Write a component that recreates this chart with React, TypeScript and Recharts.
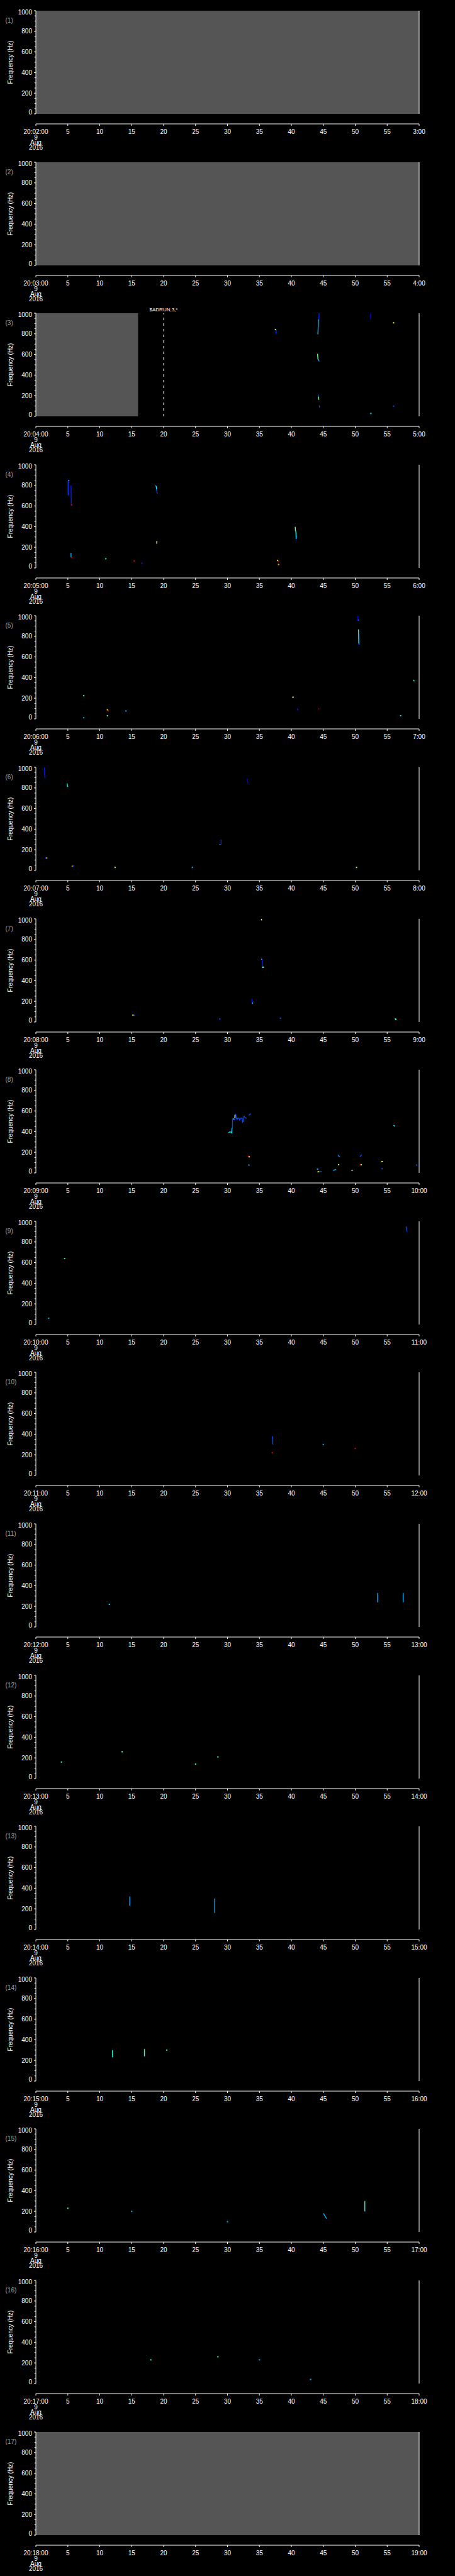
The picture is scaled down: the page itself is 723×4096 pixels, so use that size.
import { ComposedChart, Line, Scatter, XAxis, YAxis, ReferenceArea, ReferenceLine } from "recharts";

type Pt = [number, number];
type Trace = { lvl: number; pts: Pt[] };
type Dot = [number, number, number]; // seconds, Hz, intensity level (0..1)

// axis ticks
const FREQ_TICKS = [0, 50, 100, 150, 200, 250, 300, 350, 400, 450, 500, 550, 600, 650, 700, 750, 800, 850, 900, 950, 1000];
const TIME_TICKS = [0, 5, 10, 15, 20, 25, 30, 35, 40, 45, 50, 55, 60];
const startLabels = ["20:02:00", "20:03:00", "20:04:00", "20:05:00", "20:06:00", "20:07:00", "20:08:00", "20:09:00", "20:10:00", "20:11:00", "20:12:00", "20:13:00", "20:14:00", "20:15:00", "20:16:00", "20:17:00", "20:18:00"];
const endLabels = ["3:00", "4:00", "5:00", "6:00", "7:00", "8:00", "9:00", "10:00", "11:00", "12:00", "13:00", "14:00", "15:00", "16:00", "17:00", "18:00", "19:00"];

// no-data (grey) spans, seconds
const greyP1: Pt[] = [[0, 60]];
const greyP2: Pt[] = [[0, 60]];
const greyP3: Pt[] = [[0, 16]];
const greyP17: Pt[] = [[0, 60]];

const p3Lines: Trace[] = [
  { lvl: 0.2, pts: [[37.6, 842], [37.6, 800]] },
  { lvl: 0.15, pts: [[44.35, 1000], [44.3, 940]] },
  { lvl: 0.3, pts: [[44.25, 940], [44.15, 795]] },
  { lvl: 0.48, pts: [[44.1, 606], [44.15, 560], [44.25, 540]] },
  { lvl: 0.2, pts: [[44.2, 212], [44.25, 190]] },
  { lvl: 0.5, pts: [[44.25, 190], [44.3, 160]] },
  { lvl: 0.2, pts: [[44.35, 105], [44.45, 86]] },
  { lvl: 0.12, pts: [[52.4, 1000], [52.45, 938]] },
];
const p3Dots: Dot[] = [[37.5, 842, 0.65], [52.45, 28, 0.38], [56.0, 907, 0.6], [56.0, 99, 0.2], [44.3, 538, 0.2]];

const p4Lines: Trace[] = [
  { lvl: 0.18, pts: [[5.05, 850], [5.05, 704]] },
  { lvl: 0.15, pts: [[5.5, 800], [5.55, 611]] },
  { lvl: 0.3, pts: [[5.5, 146], [5.5, 103]] },
  { lvl: 0.35, pts: [[18.7, 797], [18.85, 790], [18.9, 760]] },
  { lvl: 0.2, pts: [[18.9, 760], [19.0, 720]] },
  { lvl: 0.55, pts: [[18.95, 262], [18.9, 235]] },
  { lvl: 0.5, pts: [[40.6, 398], [40.65, 355]] },
  { lvl: 0.38, pts: [[40.7, 355], [40.75, 280]] },
  { lvl: 0.2, pts: [[40.85, 310], [40.8, 280]] },
];
const p4Dots: Dot[] = [[5.15, 848, 0.25], [5.6, 611, 0.9], [5.6, 101, 0.9], [10.95, 89, 0.4], [15.4, 66, 0.9], [16.6, 46, 0.15], [37.85, 72, 0.6], [38.0, 65, 0.9], [38.0, 33, 0.7]];

const p5Lines: Trace[] = [
  { lvl: 0.12, pts: [[50.4, 1000], [50.45, 956]] },
  { lvl: 0.36, pts: [[50.5, 867], [50.55, 728]] },
  { lvl: 0.38, pts: [[59.1, 379], [59.25, 363]] },
  { lvl: 0.15, pts: [[40.9, 99], [41.05, 84]] },
  { lvl: 0.9, pts: [[44.3, 101], [44.3, 90]] },
];
const p5Dots: Dot[] = [[50.5, 957, 0.2], [50.6, 726, 0.2], [7.5, 225, 0.45], [7.5, 11, 0.3], [11.2, 88, 0.65], [11.3, 80, 0.85], [11.2, 30, 0.45], [14.1, 76, 0.3], [40.3, 213, 0.2], [40.25, 209, 0.6], [57.1, 30, 0.35]];

const p6Lines: Trace[] = [
  { lvl: 0.15, pts: [[1.35, 999], [1.4, 910], [1.47, 895]] },
  { lvl: 0.38, pts: [[4.9, 843], [4.95, 813], [5.05, 815]] },
  { lvl: 0.12, pts: [[33.1, 890], [33.15, 860], [33.2, 846]] },
  { lvl: 0.15, pts: [[29.0, 299], [29.0, 246]] },
  { lvl: 0.4, pts: [[28.8, 255], [28.85, 246]] },
];
const p6Dots: Dot[] = [[1.55, 120, 0.2], [1.7, 120, 0.72], [5.7, 40, 0.72], [5.85, 44, 0.2], [12.4, 29, 0.6], [24.5, 29, 0.3], [50.2, 29, 0.6]];

const p7Lines: Trace[] = [
  { lvl: 0.62, pts: [[35.3, 1000], [35.35, 986]] },
  { lvl: 0.38, pts: [[35.3, 611], [35.4, 605]] },
  { lvl: 0.15, pts: [[35.45, 605], [35.5, 535]] },
  { lvl: 0.15, pts: [[33.8, 223], [33.85, 182]] },
];
const p7Dots: Dot[] = [[35.6, 531, 0.6], [35.5, 531, 0.35], [33.9, 182, 0.3], [15.2, 66, 0.62], [15.4, 64, 0.2], [28.8, 29, 0.2], [38.3, 36, 0.2], [56.3, 29, 0.38], [56.35, 24, 0.38]];

const p8Lines: Trace[] = [
  { lvl: 0.35, pts: [[30.16, 388], [30.31, 396], [30.54, 396], [30.66, 388], [30.7, 432], [30.77, 432]] },
  { lvl: 0.2, pts: [[30.77, 432], [30.8, 521], [30.85, 525], [31.1, 518], [31.16, 525], [31.2, 567], [31.3, 567], [31.35, 535], [31.5, 518], [31.58, 531], [31.8, 531], [31.9, 514], [32.05, 531], [32.3, 531], [32.35, 492], [32.45, 500], [32.6, 549], [32.8, 535], [32.97, 528]] },
  { lvl: 0.5, pts: [[30.9, 525], [31.05, 521]] },
  { lvl: 0.6, pts: [[31.16, 562], [31.16, 530]] },
  { lvl: 0.2, pts: [[33.36, 557], [33.5, 570], [33.67, 570]] },
  { lvl: 0.38, pts: [[56.0, 463], [56.2, 452]] },
  { lvl: 0.25, pts: [[47.3, 175], [47.4, 165], [47.6, 153]] },
  { lvl: 0.2, pts: [[50.75, 156], [50.9, 170], [51.0, 177]] },
  { lvl: 0.9, pts: [[54.0, 101], [54.1, 110]] },
  { lvl: 0.25, pts: [[44.2, 11], [44.7, 11]] },
  { lvl: 0.3, pts: [[46.5, 24], [46.8, 30], [47.0, 34]] },
];
const p8Dots: Dot[] = [[33.3, 159, 0.9], [33.4, 156, 0.65], [33.35, 76, 0.3], [47.4, 80, 0.6], [50.8, 80, 0.88], [50.95, 80, 0.5], [44.1, 37, 0.3], [44.2, 11, 0.62], [49.5, 24, 0.5], [54.2, 41, 0.2], [59.6, 76, 0.2], [54.2, 110, 0.62]];

const p9Lines: Trace[] = [{ lvl: 0.2, pts: [[58.0, 950], [58.1, 900]] }];
const p9Dots: Dot[] = [[4.5, 640, 0.4], [2.0, 60, 0.3]];
const p10Lines: Trace[] = [{ lvl: 0.2, pts: [[37.0, 380], [37.1, 300]] }];
const p10Dots: Dot[] = [[37.0, 220, 0.9], [45.0, 300, 0.3], [50.0, 260, 0.9]];
const p11Lines: Trace[] = [{ lvl: 0.3, pts: [[53.5, 330], [53.5, 240]] }, { lvl: 0.3, pts: [[57.5, 330], [57.5, 240]] }];
const p11Dots: Dot[] = [[11.5, 220, 0.35]];
const p12Lines: Trace[] = [];
const p12Dots: Dot[] = [[13.5, 260, 0.4], [25.0, 140, 0.4], [28.5, 210, 0.4], [4.0, 160, 0.4]];
const p13Lines: Trace[] = [{ lvl: 0.3, pts: [[14.7, 320], [14.7, 230]] }, { lvl: 0.3, pts: [[28.0, 300], [28.0, 160]] }];
const p13Dots: Dot[] = [];
const p14Lines: Trace[] = [{ lvl: 0.4, pts: [[12.0, 300], [12.0, 230]] }, { lvl: 0.4, pts: [[17.0, 310], [17.0, 240]] }];
const p14Dots: Dot[] = [[20.5, 300, 0.4]];
const p15Lines: Trace[] = [{ lvl: 0.4, pts: [[51.5, 300], [51.5, 200]] }, { lvl: 0.3, pts: [[45.0, 180], [45.5, 130]] }];
const p15Dots: Dot[] = [[5.0, 230, 0.4], [15.0, 200, 0.3], [30.0, 100, 0.3]];
const p16Lines: Trace[] = [];
const p16Dots: Dot[] = [[18.0, 230, 0.4], [28.5, 260, 0.4], [35.0, 230, 0.3], [43.0, 40, 0.3]];

const panels: { lines: Trace[]; dots: Dot[]; grey: Pt[]; marker?: { t: number; text: string } }[] = [
  { lines: [], dots: [], grey: greyP1 },
  { lines: [], dots: [], grey: greyP2 },
  { lines: p3Lines, dots: p3Dots, grey: greyP3, marker: { t: 20, text: "$ADRUN,3,*" } },
  { lines: p4Lines, dots: p4Dots, grey: [] },
  { lines: p5Lines, dots: p5Dots, grey: [] },
  { lines: p6Lines, dots: p6Dots, grey: [] },
  { lines: p7Lines, dots: p7Dots, grey: [] },
  { lines: p8Lines, dots: p8Dots, grey: [] },
  { lines: p9Lines, dots: p9Dots, grey: [] },
  { lines: p10Lines, dots: p10Dots, grey: [] },
  { lines: p11Lines, dots: p11Dots, grey: [] },
  { lines: p12Lines, dots: p12Dots, grey: [] },
  { lines: p13Lines, dots: p13Dots, grey: [] },
  { lines: p14Lines, dots: p14Dots, grey: [] },
  { lines: p15Lines, dots: p15Dots, grey: [] },
  { lines: p16Lines, dots: p16Dots, grey: [] },
  { lines: [], dots: [], grey: greyP17 },
];

const FONT = "'Liberation Sans', Arial, sans-serif";
const W = 723;
const PANEL_H = 240.6;
const SIDE = 57; // width of each y-axis column

function jet(v: number) {
  const c = (x: number) => Math.round(255 * Math.max(0, Math.min(1, x)));
  return `rgb(${c(1.5 - Math.abs(4 * v - 3))},${c(1.5 - Math.abs(4 * v - 2))},${c(1.5 - Math.abs(4 * v - 1))})`;
}

function LeftTick(p: any) {
  const v = p.payload.value;
  const major = v % 200 === 0;
  const dy = v === 1000 ? 2.5 : v === 0 ? -3 : 0;
  return (
    <g>
      <line x1={p.x} x2={p.x - (major ? 3 : 2.2)} y1={p.y} y2={p.y} stroke="#fff" />
      {major && (
        <text x={p.x - 6} y={p.y + dy + 3.6} textAnchor="end" fill="#fff" fontSize={10} fontFamily={FONT}>{v}</text>
      )}
    </g>
  );
}

function RightTick(p: any) {
  const major = p.payload.value % 200 === 0;
  return <line x1={p.x} x2={p.x + (major ? 3 : 2.2)} y1={p.y} y2={p.y} stroke="#fff" />;
}

function TimeTick(p: any) {
  const v = p.payload.value;
  const label = v === 0 ? p.first : v === 60 ? p.last : String(v);
  const t = { fill: "#fff", fontSize: 10, fontFamily: FONT, textAnchor: "middle" as const };
  return (
    <g>
      <line x1={p.x} x2={p.x} y1={p.y} y2={p.y + 3} stroke="#fff" />
      <text x={p.x} y={p.y + 16.3} {...t}>{label}</text>
      {v === 0 && (
        <>
          <text x={p.x} y={p.y + 24.8} {...t}>9</text>
          <text x={p.x} y={p.y + 32.5} {...t}>Aug</text>
          <text x={p.x} y={p.y + 41} {...t}>2016</text>
        </>
      )}
    </g>
  );
}

function Square(p: any) {
  return <rect x={p.cx - 1} y={p.cy - 1} width={2} height={2} fill={jet(p.payload.lvl)} />;
}

function Panel({ idx }: { idx: number }) {
  const pn = panels[idx];
  const top = Math.round(idx * PANEL_H);
  const dots = pn.dots.map(([t, f, lvl]) => ({ t, f, lvl }));
  return (
    <div style={{ position: "absolute", left: 0, top, width: W, height: 241 }}>
      <div style={{ position: "absolute", left: 0, top: 0 }}>
        {/* plot area spans y 17..181; extra bottom margin keeps the "0" label inside the svg */}
        <ComposedChart width={W} height={192} margin={{ top: 17, right: 0, bottom: 11, left: 0 }}>
          <XAxis type="number" dataKey="t" domain={[0, 60]} allowDataOverflow hide />
          <YAxis yAxisId="l" type="number" domain={[0, 1000]} ticks={FREQ_TICKS} interval={0} width={SIDE} allowDataOverflow
            axisLine={{ stroke: "#fff" }} tickLine={false} tickSize={0} tickMargin={0} tick={<LeftTick />} />
          <YAxis yAxisId="r" orientation="right" type="number" domain={[0, 1000]} ticks={FREQ_TICKS} interval={0} width={SIDE}
            axisLine={{ stroke: "#fff" }} tickLine={false} tickSize={0} tickMargin={0} tick={<RightTick />} />
          {pn.grey.map(([a, b], i) => (
            <ReferenceArea key={"g" + i} yAxisId="l" x1={a} x2={b} y1={0} y2={1000} fill="#555555" fillOpacity={1} stroke="none" />
          ))}
          {pn.marker && (
            <ReferenceLine yAxisId="l" x={pn.marker.t} stroke="#fff" strokeDasharray="4 5"
              label={{ value: pn.marker.text, position: "top", fill: "#fff", fontSize: 8, fontFamily: FONT, offset: 3 }} />
          )}
          {pn.lines.map((tr, i) => (
            <Line key={"l" + i} yAxisId="l" data={tr.pts.map(([t, f]) => ({ t, f }))} dataKey="f" type="linear"
              stroke={jet(tr.lvl)} strokeWidth={1.4} dot={false} activeDot={false} isAnimationActive={false} />
          ))}
          {dots.length > 0 && <Scatter yAxisId="l" data={dots} dataKey="f" shape={<Square />} isAnimationActive={false} />}
        </ComposedChart>
      </div>
      <div style={{ position: "absolute", left: 0, top: 196 }}>
        <ComposedChart width={W} height={46} margin={{ top: 0, right: SIDE, bottom: 0, left: SIDE }}>
          <XAxis type="number" dataKey="t" domain={[0, 60]} ticks={TIME_TICKS} interval={0} height={45}
            axisLine={{ stroke: "#fff" }} tickLine={false} tickSize={0} tickMargin={0}
            tick={(p: any) => <TimeTick {...p} first={startLabels[idx]} last={endLabels[idx]} />} />
          <YAxis hide domain={[0, 1]} />
          <Line data={[{ t: 0, v: 0 }, { t: 60, v: 0 }]} dataKey="v" stroke="none" dot={false} isAnimationActive={false} />
        </ComposedChart>
      </div>
      <svg width={W} height={190} style={{ position: "absolute", left: 0, top: 0, pointerEvents: "none" }}>
        <text x={8.5} y={36} fill="#a0a0a0" fontSize={10} fontFamily={FONT}>({idx + 1})</text>
        <g transform="translate(16.5 99) rotate(-90)">
          <text x={0} y={0} fill="#fff" fontSize={10} fontFamily={FONT} textAnchor="middle" dominantBaseline="central">
            Frequency  (Hz)
          </text>
        </g>
      </svg>
    </div>
  );
}

export default function App() {
  return (
    <div style={{ position: "relative", width: W, height: 4096, background: "#000" }}>
      <style>{"html,body{margin:0;background:#000}"}</style>
      {panels.map((_, i) => <Panel key={i} idx={i} />)}
    </div>
  );
}
